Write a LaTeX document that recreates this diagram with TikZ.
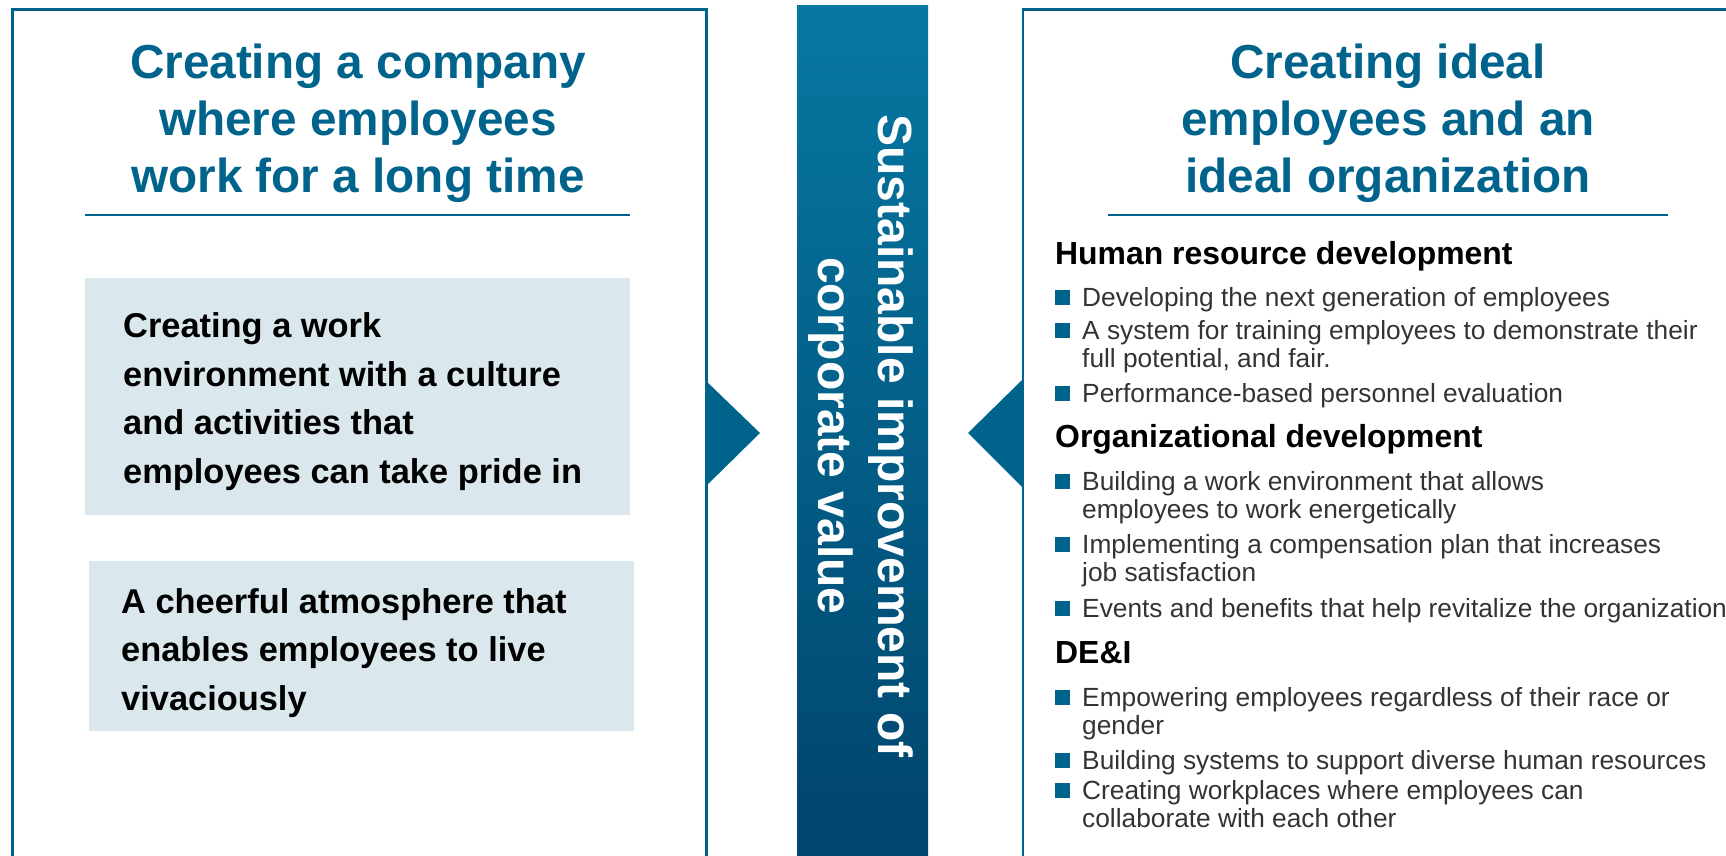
\documentclass[tikz,border=0pt]{standalone}
\usepackage{fontspec}
\setmainfont{Liberation Sans}
\definecolor{brand}{RGB}{0,99,140}
\definecolor{bartop}{RGB}{6,120,162}
\definecolor{barbottom}{RGB}{0,68,108}
\definecolor{boxfill}{RGB}{218,231,237}
\definecolor{itemgray}{RGB}{51,51,51}
\begin{document}
\begin{tikzpicture}[x=1pt,y=-1pt,
  panel/.style={draw=brand, line width=2.5pt, fill=none, inner sep=0, anchor=north west},
  title/.style={text=brand, font=\fontsize{47.7}{57}\selectfont\bfseries, align=center, inner sep=0},
  rule/.style={draw=brand, line width=2pt},
  infobox/.style={fill=boxfill, inner sep=0, anchor=north west},
  boxtext/.style={font=\fontsize{34.4}{48.4}\selectfont\bfseries, align=left, inner sep=0, anchor=base west},
  heading/.style={font=\fontsize{31.9}{36}\selectfont\bfseries, inner sep=0, anchor=base west},
  item/.style={font=\fontsize{26.3}{28.6}\selectfont, text=itemgray, align=left, inner sep=0, anchor=base west},
  bullet/.style={fill=brand, minimum size=15pt, inner sep=0},
  pointer/.style={fill=brand},
  bar/.style={top color=bartop, bottom color=barbottom, inner sep=0, anchor=north west},
  bartext/.style={text=white, font=\fontsize{48}{60.5}\selectfont\bfseries, align=center, inner sep=0, rotate=-90}
]
\useasboundingbox (0,0) rectangle (1726,855);

% left panel: open at the bottom
\node[panel, minimum width=694pt, minimum height=900pt] (leftpanel) at (11,8) {};
\node[title] (lefttitle) at (358,123.5) {Creating a company\\where employees\\work for a long time};
\coordinate (lr1) at (85,215);
\coordinate (lr2) at (630,215);
\draw[rule] (lr1) -- (lr2);

% multi-line texts are placed by the baseline of their last line
\node[infobox, minimum width=545pt, minimum height=237pt] (box1) at (85,278) {};
\node[boxtext] (box1text) at (123,483) {Creating a work\\environment with a culture\\and activities that\\employees can take pride in};

\node[infobox, minimum width=545pt, minimum height=170pt] (box2) at (89,561) {};
\node[boxtext] (box2text) at (121,710) {A cheerful atmosphere that\\enables employees to live\\vivaciously};

% pointers towards the centre bar
\fill[pointer] (705,380) -- (760,433) -- (705,487) -- cycle;
\fill[pointer] (1022,380) -- (968,433) -- (1022,487) -- cycle;

% centre bar
\node[bar, minimum width=131pt, minimum height=860pt] (bar) at (797,5) {};
\node[bartext] (bartext) at (861,436) {Sustainable improvement of\\corporate value};

% right panel: open at the bottom and right
\node[panel, minimum width=800pt, minimum height=900pt] (rightpanel) at (1021.5,8) {};
\node[title] (righttitle) at (1388,123.5) {Creating ideal\\employees and an\\ideal organization};
\coordinate (rr1) at (1108,215);
\coordinate (rr2) at (1668,215);
\draw[rule] (rr1) -- (rr2);

\node[heading] (h1) at (1055,264) {Human resource development};
\node[bullet] (b1) at (1062.5,297) {};
\node[item] (i1) at (1082,306) {Developing the next generation of employees};
\node[bullet] (b2) at (1062.5,330) {};
\node[item] (i2) at (1082,367.6) {A system for training employees to demonstrate their\\full potential, and fair.};
\node[bullet] (b3) at (1062.5,393) {};
\node[item] (i3) at (1082,402) {Performance-based personnel evaluation};

\node[heading] (h2) at (1055,447) {Organizational development};
\node[bullet] (b4) at (1062.5,481) {};
\node[item] (i4) at (1082,518.6) {Building a work environment that allows\\employees to work energetically};
\node[bullet] (b5) at (1062.5,544) {};
\node[item] (i5) at (1082,581.6) {Implementing a compensation plan that increases\\job satisfaction};
\node[bullet] (b6) at (1062.5,608) {};
\node[item] (i6) at (1082,617) {Events and benefits that help revitalize the organization};

\node[heading] (h3) at (1055,663) {DE\&I};
\node[bullet] (b7) at (1062.5,697) {};
\node[item] (i7) at (1082,734.6) {Empowering employees regardless of their race or\\gender};
\node[bullet] (b8) at (1062.5,760) {};
\node[item] (i8) at (1082,769) {Building systems to support diverse human resources};
\node[bullet] (b9) at (1062.5,790) {};
\node[item] (i9) at (1082,827.6) {Creating workplaces where employees can\\collaborate with each other};
\end{tikzpicture}
\end{document}
